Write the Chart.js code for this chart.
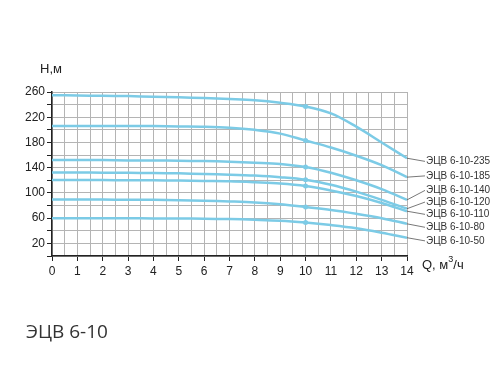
<!DOCTYPE html>
<html>
<head>
<meta charset="utf-8">
<script src="https://cdn.jsdelivr.net/npm/chart.js@4.4.1/dist/chart.umd.min.js"></script>
<style>
  body { margin: 0; background: #fff; }
  #wrap { position: relative; width: 502px; height: 389px; }
  #title {
    position: absolute; left: 26px; top: 318px;
    font-family: "Open Sans", sans-serif; font-size: 19px; color: #333;
  }
</style>
</head>
<body>
<div id="wrap">
  <canvas id="pump-chart" width="502" height="389"></canvas>
  <div id="title">ЭЦВ 6-10</div>
</div>
<script>
// flow, m3/h
const flow = [0, 1, 2, 3, 4, 5, 6, 7, 8, 9, 10, 11, 12, 13, 14];

const seriesNames = ['ЭЦВ 6-10-235', 'ЭЦВ 6-10-185', 'ЭЦВ 6-10-140', 'ЭЦВ 6-10-120',
  'ЭЦВ 6-10-110', 'ЭЦВ 6-10-80', 'ЭЦВ 6-10-50'];

// head, m
const head235 = [255, 254.5, 254, 253.5, 252.5, 251.5, 250.5, 249, 247, 243, 237, 226, 205, 180, 155];
const head185 = [206, 206, 206, 206, 206, 205.5, 205, 203.5, 200, 194, 183, 172, 159, 144, 125];
const head140 = [152, 152, 152, 151.5, 151.5, 151, 150.5, 149.5, 148, 146, 141, 132, 120, 106, 89];
const head120 = [132.5, 132.5, 132, 132, 131.5, 131, 130, 129, 127.5, 125, 121, 113, 102, 89, 75];
const head110 = [120.5, 120.5, 120.5, 120, 120, 119.5, 119, 118.5, 117, 115, 111, 104, 95, 84, 71];
const head80 = [89.5, 89.5, 89.5, 89, 89, 88.5, 87.5, 86.5, 85, 82, 77.5, 73, 67, 60, 51];
const head50 = [60, 60, 60, 60, 59.5, 59.5, 59, 58.5, 57.5, 56, 53, 49, 44, 37, 29];

const heads = [head235, head185, head140, head120, head110, head80, head50];

// where the name labels sit on the right (in head units)
const labelHeads = [150, 127, 104, 85.5, 66, 45.5, 24];

const lineColour = '#7ccbe6';

const datasets = heads.map(function (h, i) {
  return {
    label: seriesNames[i],
    data: flow.map((q, j) => ({ x: q, y: h[j] })),
    borderColor: lineColour,
    backgroundColor: lineColour,
    borderWidth: 2.5,
    tension: 0.35,
    pointRadius: flow.map(q => q === 10 ? 2.5 : 0),
    pointBorderWidth: 0
  };
});

// axis names and the curve labels
const annotations = {
  id: 'annotations',
  afterDraw(chart) {
    const ctx = chart.ctx;
    const xs = chart.scales.x, ys = chart.scales.y;
    ctx.save();
    ctx.fillStyle = '#222';
    ctx.textBaseline = 'middle';
    ctx.textAlign = 'left';
    ctx.font = '13px "Liberation Sans", Arial, sans-serif';
    ctx.fillText('H,м', 40, 69);

    // Q, м³/ч
    let qx = 422, qy = 265;
    ctx.fillText('Q, м', qx, qy);
    qx += ctx.measureText('Q, м').width;
    ctx.font = '9px "Liberation Sans", Arial, sans-serif';
    ctx.fillText('3', qx, qy - 5);
    qx += ctx.measureText('3').width;
    ctx.font = '13px "Liberation Sans", Arial, sans-serif';
    ctx.fillText('/ч', qx, qy);

    ctx.font = '10px "Liberation Sans", Arial, sans-serif';
    ctx.fillStyle = '#333';
    ctx.strokeStyle = '#555';
    ctx.lineWidth = 0.8;
    const xEnd = xs.getPixelForValue(flow[flow.length - 1]);
    heads.forEach(function (h, i) {
      const yEnd = ys.getPixelForValue(h[h.length - 1]);
      const ly = ys.getPixelForValue(labelHeads[i]);
      ctx.beginPath();
      ctx.moveTo(xEnd, yEnd);
      ctx.lineTo(xEnd + 18, ly);
      ctx.stroke();
      ctx.fillText(seriesNames[i], xEnd + 19, ly);
    });
    ctx.restore();
  }
};

new Chart(document.getElementById('pump-chart'), {
  type: 'line',
  data: { datasets: datasets },
  options: {
    responsive: false,
    animation: false,
    layout: { padding: { top: 92, right: 95, bottom: 0, left: 0 } },
    plugins: {
      legend: { display: false },
      tooltip: { enabled: false }
    },
    scales: {
      x: {
        type: 'linear',
        min: 0,
        max: 14,
        afterFit(scale) { scale.height = 133; },
        border: { color: '#222', width: 1.5 },
        grid: {
          color: '#b4b4b4',
          lineWidth: 1,
          tickLength: 5,
          tickColor: ctx => Number.isInteger(ctx.tick.value) ? '#222' : 'rgba(0,0,0,0)'
        },
        ticks: {
          stepSize: 0.5,
          autoSkip: false,
          maxRotation: 0,
          padding: 3,
          color: '#222',
          font: { family: '"Liberation Sans", Arial, sans-serif', size: 12 },
          callback: v => Number.isInteger(v) ? String(v) : ''
        }
      },
      y: {
        type: 'linear',
        min: 0,
        max: 260,
        afterFit(scale) { scale.width = 52; },
        border: { color: '#222', width: 1.5 },
        grid: {
          color: '#b4b4b4',
          lineWidth: 1,
          tickLength: 5,
          tickColor: '#222'
        },
        ticks: {
          stepSize: 20,
          autoSkip: false,
          padding: 2,
          color: '#222',
          font: { family: '"Liberation Sans", Arial, sans-serif', size: 12 },
          callback: v => (v - 20) % 40 === 0 ? String(v) : ''
        }
      }
    }
  },
  plugins: [annotations]
});
</script>
</body>
</html>
